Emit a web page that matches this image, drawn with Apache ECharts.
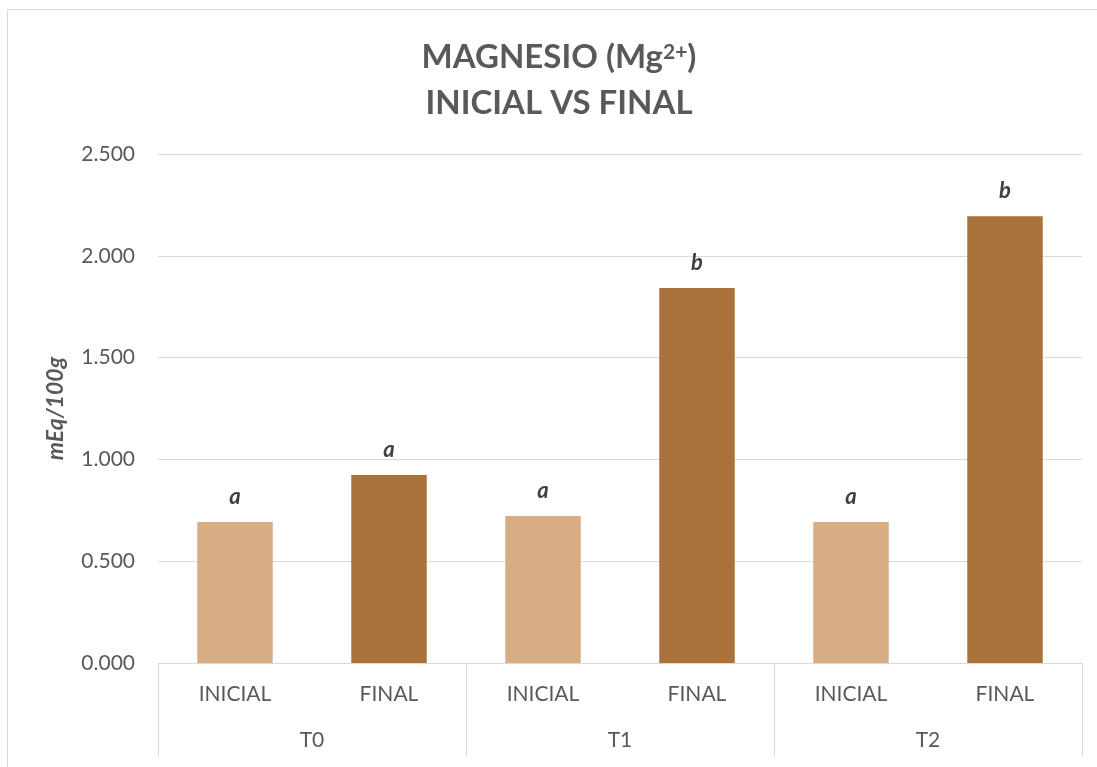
<!DOCTYPE html>
<html>
<head>
<meta charset="utf-8">
<script src="https://cdn.jsdelivr.net/npm/echarts@6/dist/echarts.min.js"></script>
<style>
html,body{margin:0;padding:0;background:#fff;}
#chart{width:1097px;height:767px;}
</style>
</head>
<body>
<div id="chart"></div>
<script>
var categories = ['INICIAL', 'FINAL', 'INICIAL', 'FINAL', 'INICIAL', 'FINAL'];
var groups = ['T0', 'T1', 'T2'];
var values = [0.693, 0.923, 0.722, 1.842, 0.693, 2.194];
var letters = ['a', 'a', 'a', 'b', 'a', 'b'];
var barColors = ['#D9AD84', '#A9723A', '#D9AD84', '#A9723A', '#D9AD84', '#A9723A'];

var FONT = 'Lato, "Open Sans", sans-serif';
var chart = echarts.init(document.getElementById('chart'), null, {renderer: 'canvas'});

var seriesData = values.map(function (v, i) {
  return {value: v, itemStyle: {color: barColors[i]}, label: {formatter: letters[i]}};
});

chart.setOption({
  animation: false,
  backgroundColor: '#fff',
  grid: {left: 158, right: 15, top: 154, bottom: 104, containLabel: false},
  graphic: [
    {type: 'rect', shape: {x: 7.5, y: 9.5, width: 1200, height: 1000}, style: {fill: 'none', stroke: '#d9d9d9', lineWidth: 1}, silent: true, z: -10},
    {
      type: 'text', x: 559, y: 34,
      style: {
        text: '{t|MAGNESIO (Mg}{s|2+}{t|)}\n{t|INICIAL VS FINAL}',
        align: 'center',
        fill: '#595959',
        font: 'bold 33px ' + FONT,
        rich: {
          t: {fontFamily: FONT, fontWeight: 'bold', fontSize: 33, lineHeight: 46, fill: '#595959', color: '#595959'},
          s: {fontFamily: FONT, fontWeight: 'bold', fontSize: 21, lineHeight: 46, verticalAlign: 'top', padding: [8, 0, 0, 0], fill: '#595959', color: '#595959'}
        }
      }
    }
  ],
  xAxis: [
    {
      type: 'category', data: categories, position: 'bottom', gridIndex: 0,
      axisLine: {show: true, lineStyle: {color: '#d9d9d9', width: 1}},
      axisTick: {show: false},
      axisLabel: {color: '#595959', fontFamily: FONT, fontSize: 21, margin: 21, interval: 0}
    },
    {
      type: 'category', data: groups, position: 'bottom', gridIndex: 0,
      axisLine: {show: false},
      axisTick: {show: true, length: 93, interval: 0, lineStyle: {color: '#d9d9d9', width: 1}},
      axisLabel: {color: '#595959', fontFamily: FONT, fontSize: 21, margin: 67, interval: 0}
    }
  ],
  yAxis: {
    type: 'value', min: 0, max: 2.5, interval: 0.5,
    name: 'mEq/100g', nameLocation: 'middle', nameGap: 91, nameRotate: 90,
    nameTextStyle: {color: '#595959', fontFamily: FONT, fontSize: 23, fontWeight: 'bold', fontStyle: 'italic'},
    axisLine: {show: false}, axisTick: {show: false},
    axisLabel: {color: '#595959', fontFamily: FONT, fontSize: 21, margin: 23, formatter: function (v) { return v.toFixed(3); }},
    splitLine: {show: true, lineStyle: {color: '#d9d9d9', width: 1}}
  },
  series: [{
    type: 'bar', xAxisIndex: 0, data: seriesData, barWidth: '49%',
    label: {show: true, position: 'top', distance: 14, color: '#404040', fontFamily: FONT, fontSize: 22, fontWeight: 'bold', fontStyle: 'italic'}
  }]
});
</script>
</body>
</html>
